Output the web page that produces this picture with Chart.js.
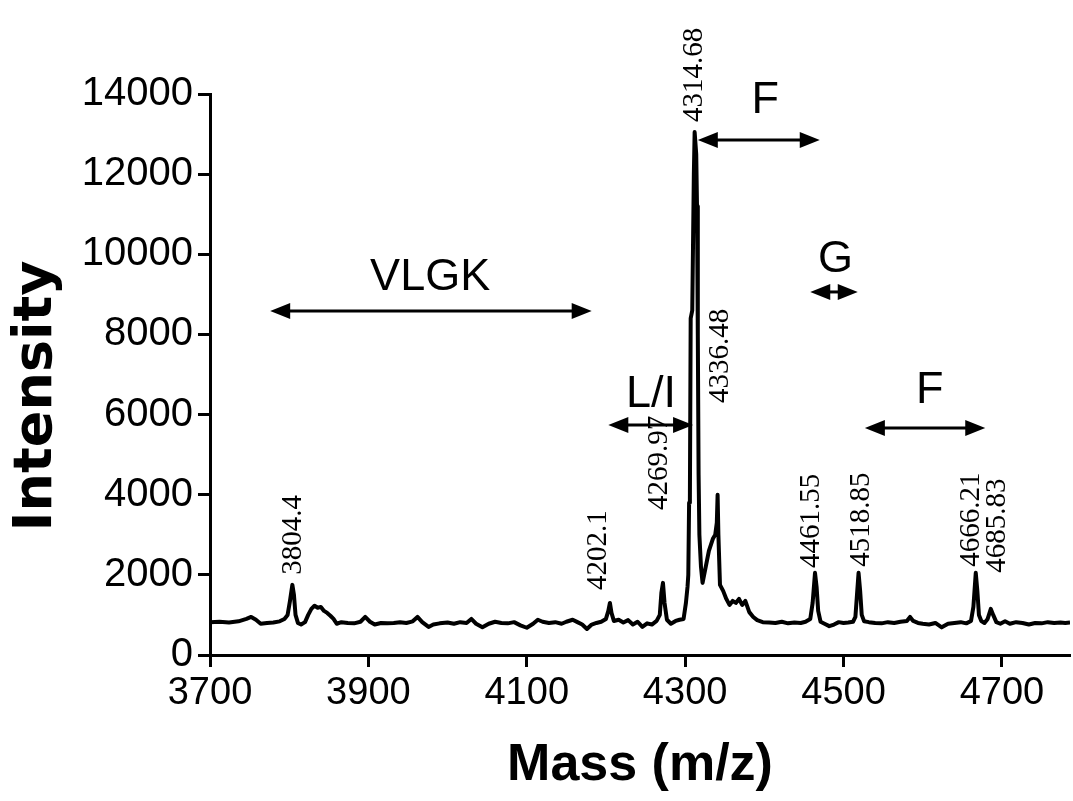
<!DOCTYPE html>
<html>
<head>
<meta charset="utf-8">
<script src="https://cdn.jsdelivr.net/npm/chart.js@4.4.1/dist/chart.umd.min.js"></script>
<style>
  html, body { margin: 0; padding: 0; background: #fff; }
  #wrap { width: 1073px; height: 801px; }
</style>
</head>
<body>
<div id="wrap"><canvas id="spectrumChart" width="1073" height="801"></canvas></div>
<script>
// spectrum: mass (m/z) and intensity
const mass = [
  3700, 3712, 3724, 3736, 3746, 3752, 3758, 3764, 3772, 3780, 3788, 3794, 3798, 3801, 3804, 3806, 3808, 3811,
  3815, 3820, 3824, 3828, 3832, 3836, 3840, 3844, 3848, 3852, 3856, 3860, 3866, 3874, 3882, 3890, 3896, 3902,
  3908, 3916, 3924, 3932, 3940, 3948, 3956, 3962, 3968, 3976, 3982, 3990, 4000, 4008, 4016, 4024, 4030, 4036,
  4044, 4052, 4060, 4068, 4076, 4084, 4092, 4100, 4108, 4114, 4120, 4128, 4136, 4144, 4150, 4158, 4164, 4170,
  4176, 4182, 4188, 4194, 4200, 4203, 4205, 4207, 4210, 4216, 4222, 4228, 4234, 4240, 4246, 4252, 4258, 4264,
  4268, 4270, 4272, 4274, 4277, 4282, 4288, 4293, 4298, 4301, 4303, 4304, 4305, 4306, 4307, 4309, 4311, 4312,
  4314, 4315, 4316, 4317, 4318, 4320, 4322, 4326, 4330, 4335, 4338, 4340, 4341, 4342, 4344, 4348, 4352, 4356,
  4360, 4364, 4368, 4372, 4376, 4381, 4386, 4391, 4398, 4406, 4414, 4422, 4430, 4438, 4446, 4452, 4458, 4461,
  4464, 4466, 4468, 4471, 4476, 4482, 4488, 4494, 4500, 4506, 4512, 4515, 4517, 4519, 4521, 4523, 4526, 4532,
  4540, 4548, 4556, 4564, 4572, 4580, 4584, 4588, 4594, 4600, 4608, 4616, 4624, 4632, 4640, 4648, 4655, 4661,
  4664, 4667, 4669, 4671, 4674, 4678, 4682, 4686, 4689, 4693, 4698, 4704, 4710, 4718, 4726, 4734, 4742, 4750,
  4758, 4766, 4774, 4780, 4786
];
const intensity = [
  820, 830, 810, 840, 900, 950, 880, 780, 800, 810, 840, 900, 1000, 1350, 1750, 1500, 1000, 800,
  760, 820, 1000, 1150, 1230, 1180, 1200, 1100, 1050, 980, 900, 780, 820, 800, 790, 830, 950, 830,
  760, 800, 790, 800, 820, 800, 840, 950, 820, 700, 760, 790, 810, 780, 820, 800, 900, 780,
  690, 780, 830, 800, 790, 820, 740, 680, 780, 880, 830, 800, 820, 780, 830, 880, 820, 760,
  650, 760, 800, 830, 900, 1100, 1300, 1050, 850, 880, 810, 870, 760, 830, 700, 790, 760, 850,
  1000, 1550, 1800, 1300, 880, 780, 850, 880, 900, 1300, 1700, 2000, 3800, 3900, 8400, 8600, 12000, 13050,
  12500, 11200, 8000, 4500, 3000, 2200, 1800, 2200, 2600, 2900, 3000, 3300, 4000, 3000, 1750, 1600, 1400, 1250,
  1350, 1300, 1400, 1250, 1350, 1070, 950, 870, 820, 810, 800, 830, 790, 810, 800, 830, 900, 1300,
  2050, 1700, 1100, 830, 780, 720, 760, 820, 800, 810, 830, 950, 1500, 2050, 1600, 1000, 840, 820,
  800, 790, 820, 800, 830, 850, 950, 850, 800, 780, 760, 800, 690, 780, 800, 820, 790, 850,
  1200, 2050, 1600, 1000, 850, 800, 900, 1150, 1000, 820, 780, 840, 780, 820, 800, 760, 800, 790,
  820, 800, 810, 800, 810
];

const xTicks = [3700, 3900, 4100, 4300, 4500, 4700];
const yTicks = [0, 2000, 4000, 6000, 8000, 10000, 12000, 14000];

// peak labels (text, mass, intensity at the foot of the label)
const peakLabels = ['3804.4', '4202.1', '4269.97', '4314.68', '4336.48', '4461.55', '4518.85', '4666.21', '4685.83'];
const peakLabelMass = [3805, 4190, 4268, 4312, 4345, 4460, 4522, 4661, 4694];
const peakLabelFoot = [2000, 1620, 3620, 13300, 6290, 2170, 2200, 2200, 2050];

// residue arrows
const arrowText = ['VLGK', 'F', 'G', 'L/I', 'F'];
const arrowFrom = [3776, 4316, 4458, 4203, 4527];
const arrowTo = [4182, 4470, 4518, 4310, 4679];
const arrowLevel = [8585, 12850, 9060, 5740, 5665];
const arrowTextMass = [3978, 4401, 4490, 4257, 4609];
const arrowTextLevel = [9110, 13530, 9560, 6190, 6290];

const points = mass.map((m, i) => ({ x: m, y: intensity[i] }));

function arrowHead(c, x, y, dir) {
  c.beginPath();
  c.moveTo(x, y);
  c.lineTo(x - dir * 20, y - 8);
  c.lineTo(x - dir * 20, y + 8);
  c.closePath();
  c.fill();
}

const annotations = {
  id: 'annotations',
  afterDatasetsDraw(chart) {
    const c = chart.ctx;
    const xs = chart.scales.x, ys = chart.scales.y;
    c.save();
    c.fillStyle = '#000';
    c.strokeStyle = '#000';

    // rotated peak masses
    c.font = '29px "Liberation Serif"';
    c.textAlign = 'left';
    c.textBaseline = 'middle';
    peakLabels.forEach((t, i) => {
      c.save();
      c.translate(xs.getPixelForValue(peakLabelMass[i]), ys.getPixelForValue(peakLabelFoot[i]));
      c.rotate(-Math.PI / 2);
      c.fillText(t, 0, 0);
      c.restore();
    });

    // double-headed arrows
    c.lineWidth = 3;
    arrowText.forEach((t, i) => {
      const x1 = xs.getPixelForValue(arrowFrom[i]);
      const x2 = xs.getPixelForValue(arrowTo[i]);
      const y = ys.getPixelForValue(arrowLevel[i]);
      c.beginPath();
      c.moveTo(x1 + 10, y);
      c.lineTo(x2 - 10, y);
      c.stroke();
      arrowHead(c, x1, y, -1);
      arrowHead(c, x2, y, 1);
    });

    c.font = '45px "Liberation Sans"';
    c.textAlign = 'center';
    c.textBaseline = 'alphabetic';
    arrowText.forEach((t, i) => {
      c.fillText(t, xs.getPixelForValue(arrowTextMass[i]), ys.getPixelForValue(arrowTextLevel[i]));
    });

    // y axis title, a little below the middle of the axis as in the figure
    c.font = 'bold 54px "DejaVu Sans"';
    c.textBaseline = 'middle';
    c.save();
    c.translate(37, 396);
    c.rotate(-Math.PI / 2);
    c.fillText('Intensity', 0, 0);
    c.restore();
    c.restore();
  }
};

new Chart(document.getElementById('spectrumChart'), {
  type: 'line',
  data: {
    datasets: [{
      data: points,
      borderColor: '#000',
      borderWidth: 4,
      borderJoinStyle: 'round',
      pointRadius: 0,
      tension: 0,
      fill: false
    }]
  },
  options: {
    responsive: false,
    animation: false,
    devicePixelRatio: 1,
    layout: { padding: { top: 94, right: 3, left: 0, bottom: 0 } },
    plugins: { legend: { display: false }, tooltip: { enabled: false } },
    scales: {
      x: {
        type: 'linear',
        min: 3700,
        max: 4786,
        afterFit: s => { s.height = 146; },
        afterBuildTicks: s => { s.ticks = xTicks.map(v => ({ value: v })); },
        grid: { drawOnChartArea: false, drawTicks: true, tickLength: 12, tickColor: '#000', tickWidth: 3 },
        border: { display: true, color: '#000', width: 3 },
        ticks: {
          color: '#000',
          font: { family: 'Liberation Sans', size: 38 },
          padding: 4,
          maxRotation: 0,
          callback: v => String(v)
        },
        title: {
          display: true,
          text: 'Mass (m/z)',
          color: '#000',
          font: { family: 'Liberation Sans', size: 52, weight: 'bold' },
          padding: { top: 0, bottom: 4 }
        }
      },
      y: {
        min: 0,
        max: 14000,
        afterFit: s => { s.width = 210; },
        afterBuildTicks: s => { s.ticks = yTicks.map(v => ({ value: v })); },
        grid: { drawOnChartArea: false, drawTicks: true, tickLength: 12, tickColor: '#000', tickWidth: 3 },
        border: { display: true, color: '#000', width: 3 },
        ticks: {
          color: '#000',
          font: { family: 'Liberation Sans', size: 40 },
          padding: 5,
          callback: v => String(v)
        }
      }
    }
  },
  plugins: [annotations]
});
</script>
</body>
</html>
